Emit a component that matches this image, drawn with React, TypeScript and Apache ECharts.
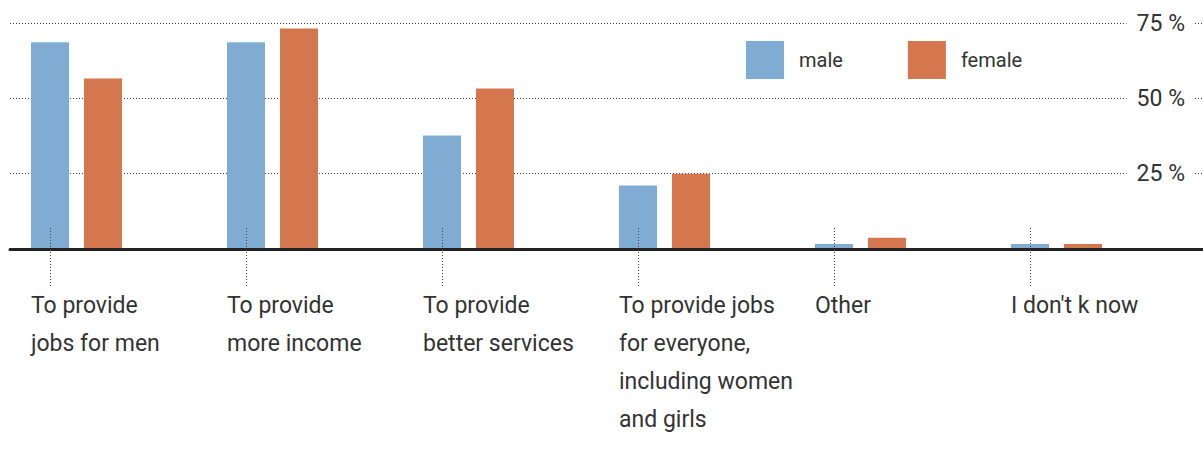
import React, { useEffect, useRef } from 'react';
import * as echarts from 'echarts';

const categories = [
  'To provide\njobs for men',
  'To provide\nmore income',
  'To provide\nbetter services',
  'To provide jobs\nfor everyone,\nincluding women\nand girls',
  'Other',
  "I don't k now",
];
const seriesNames = ['male', 'female'];
const male = [68.6, 68.6, 37.7, 21.1, 1.7, 1.7];
const female = [56.6, 73.2, 53.3, 25.0, 3.7, 1.7];
const yMin = 0;
const yMax = 75;
const yStep = 25;

const FONT = 'Roboto, "Noto Sans", sans-serif';
const BLUE = '#80ACD4';
const ORANGE = '#D4774E';

export default function App() {
  const ref = useRef<HTMLDivElement>(null);
  useEffect(() => {
    document.body.style.margin = '0';
    const chart = echarts.init(ref.current!, null, { renderer: 'svg' });
    const top = 23;
    const bottom = 468 - 249;
    const span = 980;
    const hiddenY = (gi: number) => ({
      type: 'value', gridIndex: gi, min: yMin, max: yMax, interval: yStep, show: false,
    });
    chart.setOption({
      animation: false,
      textStyle: { fontFamily: FONT },
      legend: {
        data: seriesNames,
        left: 746,
        top: 41,
        padding: 0,
        itemWidth: 38,
        itemHeight: 38,
        itemGap: 65,
        icon: 'rect',
        textStyle: { fontSize: 20, color: '#333', fontFamily: FONT, padding: [0, 0, 0, 10] },
      },
      grid: [
        { left: 10, right: 0, top, bottom },
        { left: 50, width: span, top, bottom },
        { left: 103, width: span, top, bottom },
        { left: 31, width: span, top, bottom },
      ],
      xAxis: [
        {
          type: 'category', gridIndex: 0, data: categories, z: 10,
          axisLine: { show: true, lineStyle: { color: '#222', width: 3 } },
          axisTick: { show: false }, axisLabel: { show: false }, splitLine: { show: false },
        },
        {
          type: 'category', gridIndex: 1, data: categories, z: 10, offset: -21, boundaryGap: false,
          axisLine: { show: false },
          axisTick: { show: true, length: 58, lineStyle: { color: '#444', width: 1, type: [1, 2] } },
          axisLabel: { show: false },
        },
        {
          type: 'category', gridIndex: 2, data: categories, boundaryGap: false, show: false,
        },
        {
          type: 'category', gridIndex: 3, data: categories, boundaryGap: false,
          axisLine: { show: false }, axisTick: { show: false },
          axisLabel: {
            show: true, interval: 0, align: 'left', margin: 37,
            fontSize: 23, lineHeight: 38, color: '#333', fontFamily: FONT,
          },
        },
      ],
      yAxis: [
        {
          type: 'value', gridIndex: 0, min: yMin, max: yMax, interval: yStep, position: 'right',
          axisLine: { show: false }, axisTick: { show: false },
          splitLine: { show: true, lineStyle: { color: '#444', width: 1, type: [1, 2] } },
          axisLabel: {
            show: true, inside: true, margin: 8, fontSize: 23, color: '#333', fontFamily: FONT,
            backgroundColor: '#fff', padding: [0, 10],
            formatter: (v: number) => (v === 0 ? '' : `${v} %`),
          },
        },
        hiddenY(1),
        hiddenY(2),
        hiddenY(3),
      ],
      series: [
        {
          name: seriesNames[0], type: 'bar', xAxisIndex: 1, yAxisIndex: 1, data: male,
          barWidth: 38, itemStyle: { color: BLUE }, z: 2, clip: false,
        },
        {
          name: seriesNames[1], type: 'bar', xAxisIndex: 2, yAxisIndex: 2, data: female,
          barWidth: 38, itemStyle: { color: ORANGE }, z: 2, clip: false,
        },
      ],
    });
    return () => chart.dispose();
  }, []);
  return <div ref={ref} style={{ width: 1203, height: 468 }} />;
}
